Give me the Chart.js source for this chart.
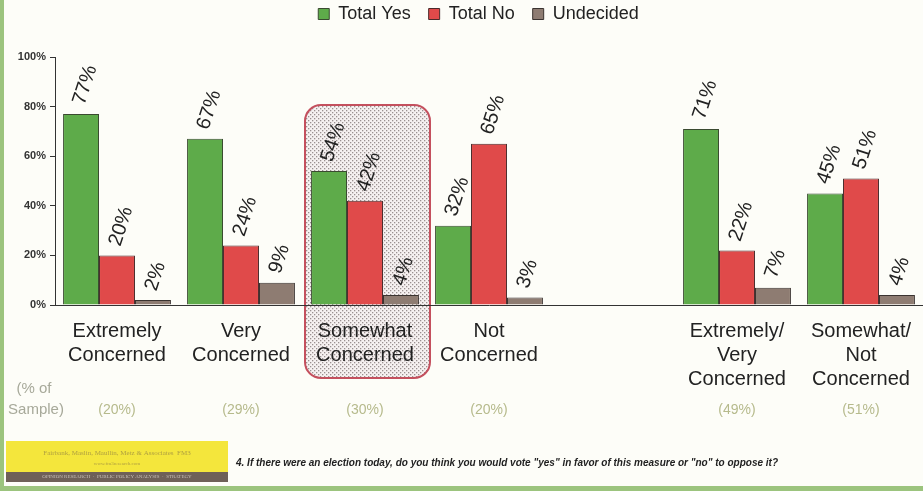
<!DOCTYPE html>
<html>
<head>
<meta charset="utf-8">
<script src="https://cdn.jsdelivr.net/npm/chart.js@4/dist/chart.umd.min.js"></script>
<style>
  html, body { margin: 0; padding: 0; background: #fdfdf8; }
  #wrap { width: 923px; height: 491px; position: relative; }
</style>
</head>
<body>
<div id="wrap"><canvas id="chart"></canvas></div>
<script>
// categories (the empty one is the gap between the two groups)
const categories = [
  ['Extremely', 'Concerned'],
  ['Very', 'Concerned'],
  ['Somewhat', 'Concerned'],
  ['Not', 'Concerned'],
  '',
  ['Extremely/', 'Very', 'Concerned'],
  ['Somewhat/', 'Not', 'Concerned']
];
const totalYes = [77, 67, 54, 32, null, 71, 45];
const totalNo = [20, 24, 42, 65, null, 22, 51];
const undecided = [2, 9, 4, 3, null, 7, 4];
const sampleShare = ['(20%)', '(29%)', '(30%)', '(20%)', '', '(49%)', '(51%)'];
const yTicks = [0, 20, 40, 60, 80, 100];
const highlightIndex = 2;
const question = '4. If there were an election today, do you think you would vote "yes" in favor of this measure or "no" to oppose it?';

function dotPattern(ctx) {
  const c = document.createElement('canvas');
  c.width = 4; c.height = 4;
  const p = c.getContext('2d');
  p.fillStyle = '#f6f1f1';
  p.fillRect(0, 0, 4, 4);
  p.fillStyle = '#9a9090';
  p.fillRect(0, 0, 1.3, 1.3);
  p.fillRect(2, 2, 1.3, 1.3);
  return ctx.createPattern(c, 'repeat');
}

// keep the legend block tall enough so the plot starts at y=57, and nudge it up/right
const legendFit = {
  id: 'legendFit',
  afterInit(chart) {
    const lg = chart.legend;
    const orig = lg.fit;
    lg.fit = function () { orig.call(this); this.height = 57; };
  },
  afterLayout(chart) {
    const lg = chart.legend;
    lg.left += 17;
    lg.right += 17;
    lg.top -= 13;
    lg.bottom -= 13;
  }
};

// page background, scan border and the highlight box behind everything
const backdrop = {
  id: 'backdrop',
  beforeDraw(chart) {
    const ctx = chart.ctx;
    ctx.save();
    ctx.fillStyle = '#fdfdf8';
    ctx.fillRect(0, 0, chart.width, chart.height);
    ctx.fillStyle = '#9cc47e';
    ctx.fillRect(0, 0, 4, chart.height);
    ctx.fillRect(0, chart.height - 5, chart.width, 5);

    const xs = chart.scales.x;
    const cx = xs.getPixelForValue(highlightIndex);
    const x0 = cx - 60, x1 = cx + 65, y0 = 105, y1 = 378;
    ctx.beginPath();
    ctx.roundRect(x0, y0, x1 - x0, y1 - y0, 16);
    ctx.fillStyle = dotPattern(ctx);
    ctx.fill();
    ctx.lineWidth = 2;
    ctx.strokeStyle = '#c4505e';
    ctx.stroke();
    ctx.restore();
  }
};

// rotated value labels over the bars
const valueLabels = {
  id: 'valueLabels',
  afterDatasetsDraw(chart) {
    const ctx = chart.ctx;
    ctx.save();
    ctx.font = '20px "Liberation Sans", Arial, sans-serif';
    ctx.fillStyle = '#222';
    ctx.textAlign = 'left';
    ctx.textBaseline = 'middle';
    chart.data.datasets.forEach((ds, i) => {
      chart.getDatasetMeta(i).data.forEach((bar, j) => {
        const v = ds.data[j];
        if (v == null) return;
        ctx.save();
        ctx.translate(bar.x - 2, bar.y - 10);
        ctx.rotate(-72 * Math.PI / 180);
        ctx.fillText(v + '%', 0, 0);
        ctx.restore();
      });
    });
    ctx.restore();
  }
};

// sample row and footer
const footer = {
  id: 'footer',
  afterDraw(chart) {
    const ctx = chart.ctx;
    const xs = chart.scales.x;
    ctx.save();
    ctx.font = '15px "Liberation Sans", Arial, sans-serif';
    ctx.textAlign = 'center';
    ctx.textBaseline = 'middle';
    ctx.fillStyle = '#a7a99a';
    ctx.fillText('(% of', 34, 389);
    ctx.fillText('Sample)', 36, 410);
    ctx.font = '14px "Liberation Sans", Arial, sans-serif';
    ctx.fillStyle = '#b6ba8c';
    sampleShare.forEach((s, i) => {
      if (s) ctx.fillText(s, xs.getPixelForValue(i), 410);
    });

    // logo block
    ctx.fillStyle = '#f4e63c';
    ctx.fillRect(6, 441, 222, 31);
    ctx.fillStyle = '#6e6058';
    ctx.fillRect(6, 472, 222, 10);
    ctx.font = '7px "Liberation Serif", serif';
    ctx.fillStyle = '#b0a040';
    ctx.fillText('Fairbank, Maslin, Maullin, Metz & Associates  FM3', 117, 453);
    ctx.font = '5px "Liberation Serif", serif';
    ctx.fillText('www.fm3research.com', 117, 464);
    ctx.fillStyle = '#c8c0b8';
    ctx.fillText('OPINION RESEARCH  \u00b7  PUBLIC POLICY ANALYSIS  \u00b7  STRATEGY', 117, 477);

    ctx.font = 'italic bold 10px "Liberation Sans", Arial, sans-serif';
    ctx.fillStyle = '#222';
    ctx.textAlign = 'left';
    ctx.fillText(question, 236, 463);
    ctx.restore();
  }
};

new Chart(document.getElementById('chart'), {
  type: 'bar',
  data: {
    labels: categories,
    datasets: [
      { label: 'Total Yes', data: totalYes, backgroundColor: '#5eab4a', borderColor: '#3a4a30', borderWidth: 1 },
      { label: 'Total No', data: totalNo, backgroundColor: '#e04a4a', borderColor: '#4a2a2a', borderWidth: 1 },
      { label: 'Undecided', data: undecided, backgroundColor: '#8e7c72', borderColor: '#3a3330', borderWidth: 1 }
    ]
  },
  options: {
    responsive: true,
    maintainAspectRatio: false,
    animation: false,
    layout: { padding: { left: 0, right: 0, top: 0, bottom: 0 } },
    datasets: { bar: { categoryPercentage: 0.87, barPercentage: 1.0 } },
    plugins: {
      tooltip: { enabled: false },
      legend: {
        position: 'top',
        labels: {
          font: { size: 18, family: '"Liberation Sans", Arial, sans-serif' },
          color: '#222',
          boxWidth: 11,
          boxHeight: 11,
          padding: 18
        }
      }
    },
    scales: {
      x: {
        grid: { display: false },
        border: { display: true, color: '#333', width: 1 },
        ticks: {
          color: '#222',
          font: { size: 20, family: '"Liberation Sans", Arial, sans-serif', lineHeight: 1.2 },
          padding: 6,
          maxRotation: 0,
          autoSkip: false
        },
        afterFit(scale) { scale.height = 186; }
      },
      y: {
        min: 0,
        max: 100,
        afterBuildTicks(scale) { scale.ticks = yTicks.map(v => ({ value: v })); },
        grid: { drawOnChartArea: false, drawTicks: true, tickLength: 5, color: '#333' },
        border: { display: true, color: '#333', width: 1 },
        ticks: {
          color: '#333',
          font: { size: 11, weight: 'bold', family: '"Liberation Sans", Arial, sans-serif' },
          padding: 4,
          callback: v => v + '%'
        },
        afterFit(scale) { scale.width = 55; }
      }
    }
  },
  plugins: [legendFit, backdrop, valueLabels, footer]
});
</script>
</body>
</html>
